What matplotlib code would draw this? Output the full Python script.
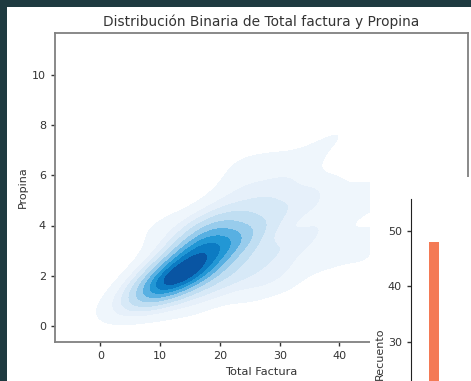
import matplotlib
matplotlib.use("Agg")
import matplotlib.pyplot as plt
import seaborn as sns
from matplotlib.colors import LinearSegmentedColormap
from matplotlib.patches import Rectangle

# tips dataset: total bill and tip
total_factura = [
    16.99, 10.34, 21.01, 23.68, 24.59, 25.29, 8.77, 26.88, 15.04, 14.78,
    10.27, 35.26, 15.42, 18.43, 14.83, 21.58, 10.33, 16.29, 16.97, 20.65,
    17.92, 20.29, 15.77, 39.42, 19.82, 17.81, 13.37, 12.69, 21.70, 19.65,
    9.55, 18.35, 15.06, 20.69, 17.78, 24.06, 16.31, 16.93, 18.69, 31.27,
    16.04, 17.46, 13.94, 9.68, 30.40, 18.29, 22.23, 32.40, 28.55, 18.04,
    12.54, 10.29, 34.81, 9.94, 25.56, 19.49, 38.01, 26.41, 11.24, 48.27,
    20.29, 13.81, 11.02, 18.29, 17.59, 20.08, 16.45, 3.07, 20.23, 15.01,
    12.02, 17.07, 26.86, 25.28, 14.73, 10.51, 17.92, 27.20, 22.76, 17.29,
    19.44, 16.66, 10.07, 32.68, 15.98, 34.83, 13.03, 18.28, 24.71, 21.16,
    28.97, 22.49, 5.75, 16.32, 22.75, 40.17, 27.28, 12.03, 21.01, 12.46,
    11.35, 15.38, 44.30, 22.42, 20.92, 15.36, 20.49, 25.21, 18.24, 14.31,
    14.00, 7.25, 38.07, 23.95, 25.71, 17.31, 29.93, 10.65, 12.43, 24.08,
    11.69, 13.42, 14.26, 15.95, 12.48, 29.80, 8.52, 14.52, 11.38, 22.82,
    19.08, 20.27, 11.17, 12.26, 18.26, 8.51, 10.33, 14.15, 16.00, 13.16,
    17.47, 34.30, 41.19, 27.05, 16.43, 8.35, 18.64, 11.87, 9.78, 7.51,
    14.07, 13.13, 17.26, 24.55, 19.77, 29.85, 48.17, 25.00, 13.39, 16.49,
    21.50, 12.66, 16.21, 13.81, 17.51, 24.52, 20.76, 31.71, 10.59, 10.63,
    50.81, 15.81, 7.25, 31.85, 16.82, 32.90, 17.89, 14.48, 9.60, 34.63,
    34.65, 23.33, 45.35, 23.17, 40.55, 20.69, 20.90, 30.46, 18.15, 23.10,
    15.69, 19.81, 28.44, 15.48, 16.58, 7.56, 10.34, 43.11, 13.00, 13.51,
    18.71, 12.74, 13.00, 16.40, 20.53, 16.47, 26.59, 38.73, 24.27, 12.76,
    30.06, 25.89, 48.33, 13.27, 28.17, 12.90, 28.15, 11.59, 7.74, 30.14,
    12.16, 13.42, 8.58, 15.98, 13.42, 16.27, 10.09, 20.45, 13.28, 22.12,
    24.01, 15.69, 11.61, 10.77, 15.53, 10.07, 12.60, 32.83, 35.83, 29.03,
    27.18, 22.67, 17.82, 18.78,
]
propina = [
    1.01, 1.66, 3.50, 3.31, 3.61, 4.71, 2.00, 3.12, 1.96, 3.23,
    1.71, 5.00, 1.57, 3.00, 3.02, 3.92, 1.67, 3.71, 3.50, 3.35,
    4.08, 2.75, 2.23, 7.58, 3.18, 2.34, 2.00, 2.00, 4.30, 3.00,
    1.45, 2.50, 3.00, 2.45, 3.27, 3.60, 2.00, 3.07, 2.31, 5.00,
    2.24, 2.54, 3.06, 1.32, 5.60, 3.00, 5.00, 6.00, 2.05, 3.00,
    2.50, 2.60, 5.20, 1.56, 4.34, 3.51, 3.00, 1.50, 1.76, 6.73,
    3.21, 2.00, 1.98, 3.76, 2.64, 3.15, 2.47, 1.00, 2.01, 2.09,
    1.97, 3.00, 3.14, 5.00, 2.20, 1.25, 3.08, 4.00, 3.00, 2.71,
    3.00, 3.40, 1.83, 5.00, 2.03, 5.17, 2.00, 4.00, 5.85, 3.00,
    3.00, 3.50, 1.00, 4.30, 3.25, 4.73, 4.00, 1.50, 3.00, 1.50,
    2.50, 3.00, 2.50, 3.48, 4.08, 1.64, 4.06, 4.29, 3.76, 4.00,
    3.00, 1.00, 4.00, 2.55, 4.00, 3.50, 5.07, 1.50, 1.80, 2.92,
    2.31, 1.68, 2.50, 2.00, 2.52, 4.20, 1.48, 2.00, 2.00, 2.18,
    1.50, 2.83, 1.50, 2.00, 3.25, 1.25, 2.00, 2.00, 2.00, 2.75,
    3.50, 6.70, 5.00, 5.00, 2.30, 1.50, 1.36, 1.63, 1.73, 2.00,
    2.50, 2.00, 2.74, 2.00, 2.00, 5.14, 5.00, 3.75, 2.61, 2.00,
    3.50, 2.50, 2.00, 2.00, 3.00, 3.48, 2.24, 4.50, 1.61, 2.00,
    10.00, 3.16, 5.15, 3.18, 4.00, 3.11, 2.00, 2.00, 4.00, 3.55,
    3.68, 5.65, 3.50, 6.50, 3.00, 5.00, 3.50, 2.00, 3.50, 4.00,
    1.50, 4.19, 2.56, 2.02, 4.00, 1.44, 2.00, 5.00, 2.00, 2.00,
    4.00, 2.01, 2.00, 2.50, 4.00, 3.23, 3.41, 3.00, 2.03, 2.23,
    2.00, 5.16, 9.00, 2.50, 6.50, 1.10, 3.00, 1.50, 1.44, 3.09,
    2.20, 3.48, 1.92, 3.00, 1.58, 2.50, 2.00, 3.00, 2.72, 2.88,
    2.00, 3.00, 3.39, 1.47, 3.00, 1.25, 1.00, 1.17, 4.67, 5.92,
    2.00, 2.00, 1.75, 3.00,
]

# second (partly hidden) chart behind: only the first bar shows
recuento = [48]

# blues as they appear in the screenshot (a bit more saturated than "Blues")
kde_colors = ["#f4f8fd", "#dcebf8", "#bcdcf1", "#8cc6ea", "#3fa6de",
              "#0e8ccf", "#0a6bb8", "#083f8e"]
kde_cmap = LinearSegmentedColormap.from_list("shot_blues", kde_colors)

W, H = 471, 381
fig = plt.figure(figsize=(W / 100, H / 100), dpi=100)
fig.patch.set_facecolor("#1e3a40")

def px_box(x0, y0, x1, y1):
    # pixel box (top-left origin) -> figure fraction rect
    return [x0 / W, 1 - y1 / H, (x1 - x0) / W, (y1 - y0) / H]

# white page
fig.patches.append(Rectangle((7 / W, 0), 1, 1 - 7 / H, transform=fig.transFigure,
                             facecolor="white", edgecolor="none", zorder=-5))

ax = fig.add_axes(px_box(55, 33, 468, 342))
sns.kdeplot(x=total_factura, y=propina, fill=True, cmap=kde_cmap, ax=ax)
ax.set_xlim(-7.6, 61.5)
ax.set_ylim(-0.66, 11.7)
ax.set_xticks([0, 10, 20, 30, 40])
ax.set_yticks([0, 2, 4, 6, 8, 10])
ax.set_title("Distribución Binaria de Total factura y Propina", fontsize=9.9, color="#333333", pad=5)
ax.set_xlabel("Total Factura", fontsize=8.2, color="#333333", labelpad=4)
ax.set_ylabel("Propina", fontsize=8, color="#333333", labelpad=3)
ax.tick_params(labelsize=8, colors="#333333", length=3, width=1)
for s in ax.spines.values():
    s.set_color("#808080")
    s.set_linewidth(1.3)

# overlapping window of another figure in the lower right
fig.patches.append(Rectangle((370 / W, -0.1), 1, (381 - 177) / H + 0.1,
                             transform=fig.transFigure, facecolor="white",
                             edgecolor="none", zorder=5))
ax2 = fig.add_axes(px_box(411, 199, 560, 508))
ax2.set_zorder(6)
ax2.patch.set_alpha(0)
ax2.bar([0], recuento, width=0.22, color="#f47a55")
ax2.set_xlim(-0.5, 2.7)
ax2.set_ylim(0, 55.8)
ax2.set_yticks([30, 40, 50])
ax2.set_xticks([])
ax2.set_ylabel("Recuento", fontsize=8, color="#333333", labelpad=2)
ax2.tick_params(labelsize=8, colors="#333333", length=3, width=1)
for k in ["top", "right", "bottom"]:
    ax2.spines[k].set_visible(False)
ax2.spines["left"].set_color("#222222")

fig.savefig("out.png", dpi=100, facecolor=fig.get_facecolor())
